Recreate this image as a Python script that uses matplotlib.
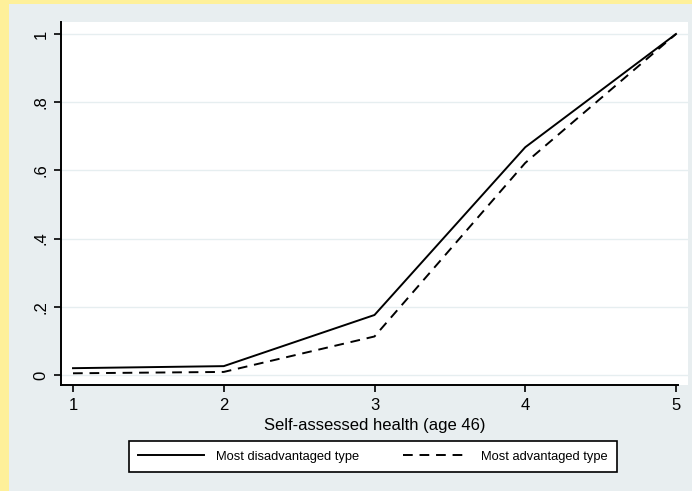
import matplotlib
matplotlib.use("Agg")
import matplotlib.pyplot as plt
from matplotlib.patches import Rectangle

plt.rcParams["font.family"] = ["Liberation Sans", "DejaVu Sans"]

# values
health = [1, 2, 3, 4, 5]
disadvantaged = [0.02, 0.026, 0.176, 0.668, 1.0]
advantaged = [0.005, 0.009, 0.113, 0.622, 1.0]
y_ticks = [0, 0.2, 0.4, 0.6, 0.8, 1.0]
y_labels = ["0", ".2", ".4", ".6", ".8", "1"]

W, H = 692, 491
fig = plt.figure(figsize=(W / 100, H / 100), dpi=100)
fig.patch.set_facecolor("#FEF09A")
# blue-grey panel inside the yellow frame
fig.patches.append(Rectangle((9 / W, 0), 1 - 9 / W, 1 - 4 / H, transform=fig.transFigure,
                             facecolor="#E8EEF0", edgecolor="none", zorder=-5))

ax = fig.add_axes([61 / W, (H - 385) / H, (688 - 61) / W, (385 - 22) / H])
ax.set_facecolor("white")

ax.plot(health, disadvantaged, color="black", lw=1.4, label="Most disadvantaged type")
ax.plot(health, advantaged, color="black", lw=1.4, ls=(0, (5, 3.5)), label="Most advantaged type")

xlo, xhi = 1 - 12 / 150.75, 5 + 12 / 150.75
ax.set_xlim(xlo, xhi)
ax.set_ylim(-10 / 341, 1 + 12 / 341)
ax.set_xticks(health)
ax.set_yticks(y_ticks)
ax.set_yticklabels(y_labels, rotation=90, va="center")
ax.grid(axis="y", color="#E6EEF0", lw=1)
ax.set_axisbelow(True)
for s in ["top", "right"]:
    ax.spines[s].set_visible(False)
for s in ["left", "bottom"]:
    ax.spines[s].set_linewidth(1.4)
ax.spines["bottom"].set_bounds(xlo, 5.01)
ax.tick_params(axis="both", direction="out", length=5, width=1.2, labelsize=12, pad=4)
ax.set_xlabel("Self-assessed health (age 46)", fontsize=12, labelpad=4)

# legend box spans x 123..623, y 440..473 in the reference
leg = fig.legend(loc="center", bbox_to_anchor=(123 / W, 1 - 473 / H, 500 / W, 33 / H),
                 mode="expand", ncol=2, fontsize=9.3,
                 frameon=True, fancybox=False, framealpha=1, handlelength=5.1, columnspacing=3.4,
                 borderpad=0.7, handletextpad=0.9)
leg.get_frame().set_edgecolor("black")
leg.get_frame().set_linewidth(1.2)

fig.savefig("out.png", dpi=100, facecolor=fig.get_facecolor())
